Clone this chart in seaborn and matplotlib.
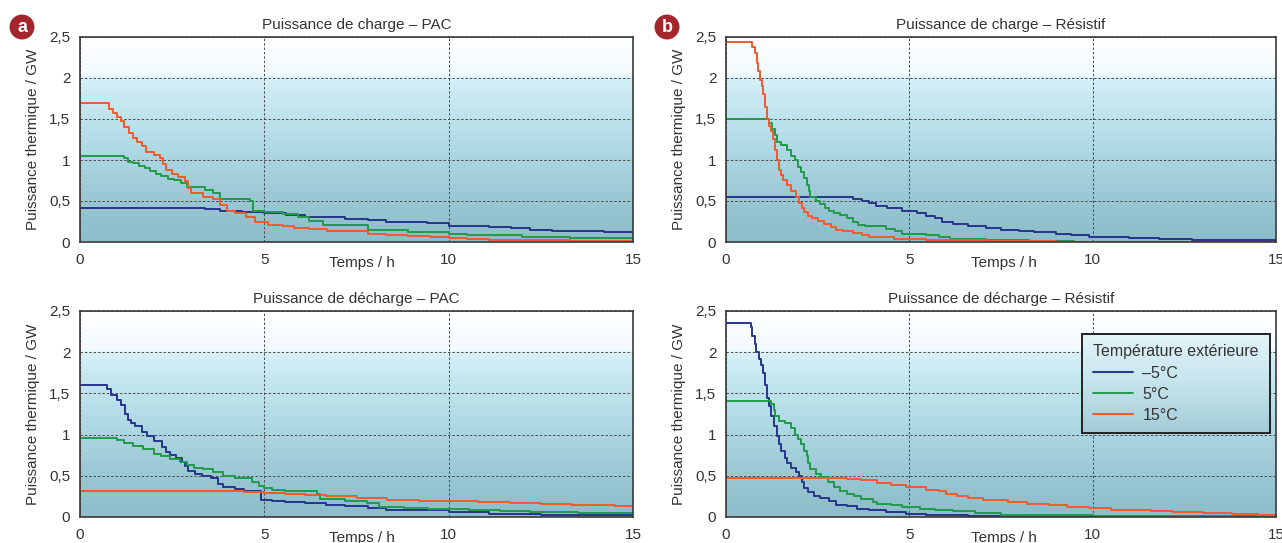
import numpy as np
import pandas as pd
import matplotlib
matplotlib.use("Agg")
import matplotlib.pyplot as plt
from matplotlib.colors import LinearSegmentedColormap
import seaborn as sns

# ---------------- data ----------------
temps = ["–5°C", "5°C", "15°C"]

# Puissance de charge – PAC
cp_m5_t = [0, 3.4, 3.8, 4.4, 5.0, 5.6, 6.1, 6.7, 7.2, 7.8, 8.3, 8.9, 9.4, 10.0, 10.6, 11.1, 11.7, 12.2, 12.8, 13.3, 14.2, 15]
cp_m5_p = [0.41, 0.40, 0.38, 0.37, 0.35, 0.33, 0.31, 0.30, 0.28, 0.27, 0.25, 0.24, 0.23, 0.20, 0.19, 0.18, 0.17, 0.15, 0.14, 0.13, 0.12, 0.11]
cp_5_t = [0, 1.2, 1.3, 1.45, 1.6, 1.75, 1.9, 2.05, 2.2, 2.4, 2.55, 2.75, 2.9, 3.4, 3.6, 3.8, 4.6, 4.7, 5.0, 5.5,
          5.9, 6.2, 6.6, 7.8, 8.9, 10.0, 10.5, 11.1, 12.0, 13.3, 15]
cp_5_p = [1.05, 1.02, 0.98, 0.96, 0.93, 0.90, 0.87, 0.83, 0.80, 0.77, 0.75, 0.72, 0.67, 0.64, 0.60, 0.52, 0.50, 0.38, 0.36, 0.34,
          0.31, 0.26, 0.21, 0.15, 0.12, 0.10, 0.09, 0.08, 0.06, 0.05, 0.04]
cp_15_t = [0, 0.78, 0.9, 1.0, 1.1, 1.2, 1.33, 1.45, 1.55, 1.67, 1.8, 2.0, 2.17, 2.25, 2.33, 2.5, 2.67, 2.85, 2.92, 3.0,
           3.33, 3.6, 3.8, 4.0, 4.2, 4.5, 4.75, 5.1, 5.5, 5.8, 6.2, 6.7, 7.2, 7.8, 8.3, 8.9, 9.5, 10.0, 10.5, 11.1,
           12.0, 13.3, 15]
cp_15_p = [1.69, 1.62, 1.57, 1.52, 1.47, 1.40, 1.33, 1.27, 1.22, 1.17, 1.10, 1.06, 1.02, 0.95, 0.88, 0.83, 0.79, 0.74, 0.66, 0.60,
           0.55, 0.52, 0.45, 0.38, 0.35, 0.31, 0.24, 0.21, 0.19, 0.17, 0.16, 0.14, 0.13, 0.10, 0.09, 0.07, 0.06, 0.05, 0.04, 0.03,
           0.02, 0.01, 0.0]

# Puissance de charge – Résistif
cr_m5_t = [0, 3.46, 3.7, 3.9, 4.1, 4.4, 4.8, 5.2, 5.46, 5.7, 5.9, 6.2, 6.6, 7.1, 7.5, 8.0, 8.4, 9.0, 9.4, 9.9,
           10.5, 11.0, 11.8, 12.7, 13.8, 15]
cr_m5_p = [0.55, 0.53, 0.50, 0.47, 0.44, 0.42, 0.38, 0.35, 0.32, 0.29, 0.25, 0.22, 0.20, 0.17, 0.15, 0.13, 0.12, 0.10, 0.09, 0.065,
           0.06, 0.05, 0.04, 0.03, 0.02, 0.01]
cr_5_t = [0, 1.17, 1.25, 1.34, 1.4, 1.5, 1.65, 1.78, 1.87, 1.95, 2.05, 2.12, 2.2, 2.25, 2.3, 2.45, 2.56, 2.7, 2.8, 2.95,
          3.12, 3.3, 3.46, 3.6, 3.8, 4.35, 4.6, 4.8, 5.46, 5.8, 6.1, 7.1, 8.25, 9.5, 15]
cr_5_p = [1.50, 1.45, 1.38, 1.30, 1.22, 1.18, 1.12, 1.05, 1.00, 0.92, 0.85, 0.78, 0.70, 0.62, 0.55, 0.50, 0.46, 0.42, 0.38, 0.35,
          0.33, 0.29, 0.25, 0.21, 0.19, 0.16, 0.13, 0.10, 0.08, 0.06, 0.04, 0.03, 0.01, 0.0, 0.0]
cr_15_t = [0, 0.72, 0.78, 0.84, 0.88, 0.92, 0.97, 1.0, 1.05, 1.11, 1.17, 1.23, 1.28, 1.34, 1.4, 1.45, 1.5, 1.56, 1.67, 1.78,
           1.9, 2.0, 2.06, 2.12, 2.23, 2.34, 2.5, 2.68, 2.85, 3.0, 3.2, 3.46, 3.7, 3.9, 4.57, 5.46, 7.1, 9.0, 15]
cr_15_p = [2.44, 2.38, 2.30, 2.18, 2.08, 1.98, 1.90, 1.80, 1.65, 1.50, 1.42, 1.35, 1.25, 1.12, 1.00, 0.88, 0.82, 0.76, 0.70, 0.62,
           0.55, 0.48, 0.42, 0.36, 0.32, 0.29, 0.26, 0.22, 0.18, 0.15, 0.13, 0.11, 0.08, 0.06, 0.04, 0.02, 0.01, 0.0, 0.0]

# Puissance de décharge – PAC
dp_m5_t = [0, 0.72, 0.85, 1.0, 1.1, 1.22, 1.3, 1.39, 1.5, 1.67, 1.83, 2.0, 2.22, 2.33, 2.44, 2.6, 2.78, 2.86, 2.94, 3.11,
           3.3, 3.56, 3.75, 3.89, 4.2, 4.44, 4.9, 5.2, 5.56, 6.1, 6.67, 7.2, 7.8, 8.3, 8.9, 10.0, 11.1, 12.5, 13.8, 15]
dp_m5_p = [1.60, 1.55, 1.48, 1.42, 1.36, 1.25, 1.18, 1.14, 1.10, 1.03, 0.98, 0.92, 0.85, 0.79, 0.75, 0.72, 0.67, 0.62, 0.56, 0.52,
           0.50, 0.47, 0.40, 0.36, 0.34, 0.32, 0.21, 0.20, 0.18, 0.17, 0.15, 0.13, 0.11, 0.09, 0.08, 0.06, 0.04, 0.03, 0.02, 0.01]
dp_5_t = [0, 1.0, 1.2, 1.44, 1.7, 2.0, 2.2, 2.44, 2.7, 2.9, 3.1, 3.33, 3.6, 3.89, 4.2, 4.67, 4.85, 5.0, 5.2, 5.56,
          6.44, 6.5, 7.2, 7.78, 8.1, 8.8, 9.44, 10.56, 11.4, 12.2, 13.5, 15]
dp_5_p = [0.96, 0.93, 0.90, 0.86, 0.82, 0.77, 0.74, 0.70, 0.67, 0.63, 0.60, 0.58, 0.55, 0.50, 0.47, 0.42, 0.38, 0.35, 0.33, 0.32,
          0.28, 0.22, 0.20, 0.17, 0.12, 0.11, 0.10, 0.08, 0.07, 0.06, 0.05, 0.04]
dp_15_t = [0, 3.56, 4.44, 5.0, 5.56, 6.1, 6.67, 7.5, 8.33, 9.2, 10.0, 10.8, 11.67, 12.5, 13.33, 14.0, 14.5, 15]
dp_15_p = [0.32, 0.31, 0.30, 0.29, 0.28, 0.27, 0.25, 0.23, 0.21, 0.20, 0.19, 0.18, 0.17, 0.16, 0.15, 0.14, 0.13, 0.12]

# Puissance de décharge – Résistif
dr_m5_t = [0, 0.67, 0.72, 0.78, 0.83, 0.89, 0.95, 1.0, 1.06, 1.12, 1.18, 1.23, 1.3, 1.39, 1.45, 1.5, 1.6, 1.67, 1.78, 1.9,
           2.0, 2.06, 2.12, 2.23, 2.4, 2.56, 2.8, 3.0, 3.3, 3.57, 3.9, 4.35, 4.9, 5.46, 6.6, 8.0, 15]
dr_m5_p = [2.36, 2.30, 2.20, 2.10, 2.00, 1.92, 1.85, 1.75, 1.60, 1.45, 1.35, 1.22, 1.10, 0.98, 0.88, 0.80, 0.72, 0.65, 0.60, 0.55,
           0.50, 0.42, 0.35, 0.30, 0.26, 0.23, 0.19, 0.15, 0.13, 0.10, 0.08, 0.06, 0.04, 0.02, 0.01, 0.0, 0.0]
dr_5_t = [0, 1.23, 1.3, 1.34, 1.45, 1.6, 1.78, 1.87, 1.95, 2.05, 2.12, 2.2, 2.23, 2.3, 2.45, 2.6, 2.79, 2.95, 3.12, 3.3,
          3.5, 3.68, 4.0, 4.13, 4.5, 4.8, 5.3, 5.69, 6.2, 6.8, 7.5, 8.25, 10.0, 15]
dr_5_p = [1.41, 1.37, 1.30, 1.22, 1.17, 1.14, 1.08, 1.00, 0.95, 0.88, 0.80, 0.74, 0.66, 0.58, 0.52, 0.48, 0.42, 0.37, 0.32, 0.28,
          0.26, 0.22, 0.18, 0.16, 0.14, 0.12, 0.10, 0.08, 0.07, 0.05, 0.03, 0.02, 0.01, 0.01]
dr_15_t = [0, 3.3, 3.68, 4.13, 4.5, 4.9, 5.2, 5.46, 5.8, 6.0, 6.3, 6.6, 7.0, 7.7, 8.2, 8.8, 9.3, 9.9, 10.5, 11.0,
           11.6, 12.2, 13.0, 13.8, 14.5, 15]
dr_15_p = [0.47, 0.465, 0.45, 0.41, 0.39, 0.37, 0.36, 0.33, 0.31, 0.28, 0.26, 0.23, 0.21, 0.18, 0.16, 0.14, 0.12, 0.11, 0.09, 0.08,
           0.07, 0.06, 0.05, 0.04, 0.03, 0.03]

titles = ["Puissance de charge – PAC", "Puissance de charge – Résistif",
          "Puissance de décharge – PAC", "Puissance de décharge – Résistif"]
panel_letters = ["a", "b"]
x_ticks = [0, 5, 10, 15]
x_ticklabels = ["0", "5", "10", "15"]
y_ticks = [0, 0.5, 1, 1.5, 2, 2.5]
y_ticklabels = ["0", "0,5", "1", "1,5", "2", "2,5"]
xlabel = "Temps / h"
ylabel = "Puissance thermique / GW"
legend_title = "Température extérieure"

series = {
    0: [(cp_m5_t, cp_m5_p), (cp_5_t, cp_5_p), (cp_15_t, cp_15_p)],
    1: [(cr_m5_t, cr_m5_p), (cr_5_t, cr_5_p), (cr_15_t, cr_15_p)],
    2: [(dp_m5_t, dp_m5_p), (dp_5_t, dp_5_p), (dp_15_t, dp_15_p)],
    3: [(dr_m5_t, dr_m5_p), (dr_5_t, dr_5_p), (dr_15_t, dr_15_p)],
}
rows = []
for panel, lst in series.items():
    for temp, (ts, ps) in zip(temps, lst):
        assert len(ts) == len(ps), (panel, temp, len(ts), len(ps))
        for t, p in zip(ts, ps):
            rows.append({"panel": panel, "temp": temp, "t": t, "p": p})
df = pd.DataFrame(rows)

# ---------------- style ----------------
sns.set_style("white")
plt.rcParams["font.family"] = ["Liberation Sans", "DejaVu Sans"]
text_col = "#333333"

palette = {"–5°C": "#27348b", "5°C": "#22994a", "15°C": "#f15a2b"}

bg_cmap = LinearSegmentedColormap.from_list(
    "bg", [(0.0, "#8dbdca"), (0.2, "#99c7d3"), (0.45, "#afd9e4"),
           (0.7, "#c8e9f2"), (0.795, "#d6f0f8"), (0.815, "#f2fafd"), (1.0, "#ffffff")])
leg_cmap = LinearSegmentedColormap.from_list("leg", ["#a4ccd7", "#c4e4ed", "#e3f4f9"])
grad = np.linspace(0, 1, 256).reshape(-1, 1)

fig = plt.figure(figsize=(12.82, 5.43), dpi=100)
positions = [
    [80 / 1282, 1 - 242 / 543, 553 / 1282, 205 / 543],
    [726 / 1282, 1 - 242 / 543, 550 / 1282, 205 / 543],
    [80 / 1282, 1 - 517 / 543, 553 / 1282, 206 / 543],
    [726 / 1282, 1 - 517 / 543, 550 / 1282, 206 / 543],
]

axes = []
for i, pos in enumerate(positions):
    ax = fig.add_axes(pos)
    axes.append(ax)
    ax.imshow(grad, extent=[0, 15, 0, 2.5], origin="lower", aspect="auto",
              cmap=bg_cmap, zorder=0, interpolation="bilinear")
    sub = df[df["panel"] == i]
    sns.lineplot(data=sub, x="t", y="p", hue="temp", hue_order=temps,
                 palette=palette, estimator=None, drawstyle="steps-post",
                 linewidth=1.4, legend=(i == 3), ax=ax, zorder=3)
    ax.set_xlim(0, 15)
    ax.set_ylim(0, 2.5)
    ax.set_xticks(x_ticks)
    ax.set_xticklabels(x_ticklabels)
    ax.set_yticks(y_ticks)
    ax.set_yticklabels(y_ticklabels)
    ax.tick_params(axis="y", length=0, labelsize=11, labelcolor=text_col, pad=7)
    ax.tick_params(axis="x", length=0, labelsize=11, labelcolor=text_col, pad=8)
    ax.grid(True, color="#4a4a4a", linestyle=(0, (2.5, 2)), linewidth=0.7)
    ax.set_axisbelow(True)
    for sp in ax.spines.values():
        sp.set_color("#3a3a3a")
        sp.set_linewidth(1.2)
        sp.set_zorder(5)
    ax.set_xlabel(xlabel, fontsize=11, color=text_col)
    ax.xaxis.set_label_coords(0.51 if i % 2 == 0 else 0.505, -0.07)
    ax.set_ylabel(ylabel, fontsize=11, color=text_col)
    ax.yaxis.set_label_coords(-0.072, 0.5)
    ax.set_title(titles[i], fontsize=11, color=text_col, pad=5.5)

    if i == 3:
        sns.move_legend(ax, loc="upper left",
                        bbox_to_anchor=(0.648, 0.422, 0.341, 0.466), mode="expand",
                        title=legend_title, frameon=True, fancybox=False,
                        edgecolor="#222222", facecolor="none", framealpha=1,
                        handlelength=2.5, handletextpad=0.6, fontsize=11.5,
                        title_fontsize=11.5, alignment="left", borderpad=0.65,
                        labelspacing=0.38, borderaxespad=0)
        leg = ax.get_legend()
        leg.get_frame().set_linewidth(1.4)
        for t in leg.get_texts():
            t.set_color(text_col)
        leg.get_title().set_color(text_col)

# gradient behind the legend
fig.canvas.draw()
ax = axes[3]
leg = ax.get_legend()
bb = leg.get_window_extent().transformed(ax.transAxes.inverted())
ax.imshow(grad, extent=[bb.x0, bb.x1, bb.y0, bb.y1], transform=ax.transAxes,
          origin="lower", aspect="auto", cmap=leg_cmap, zorder=4.5,
          interpolation="bilinear")
ax.set_xlim(0, 15)
ax.set_ylim(0, 2.5)

# panel letters
for letter, x in zip(panel_letters, [22 / 1282, 667 / 1282]):
    fig.text(x, 1 - 27 / 543, letter, ha="center", va="center", color="white",
             fontsize=13, fontweight="bold",
             bbox=dict(boxstyle="circle,pad=0.22", fc="#a3262c", ec="none"))

fig.savefig("out.png", dpi=100)
